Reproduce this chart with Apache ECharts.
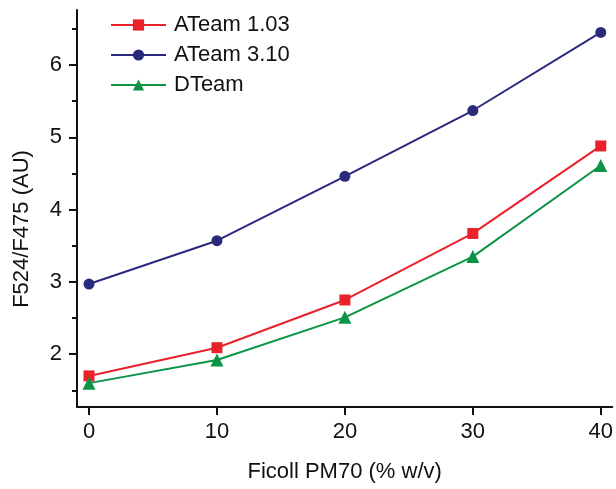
<!DOCTYPE html>
<html>
<head>
<meta charset="utf-8">
<script src="https://cdn.jsdelivr.net/npm/echarts@6/dist/echarts.min.js"></script>
<style>
  html, body { margin: 0; padding: 0; background: #fff; }
  #chart { width: 616px; height: 489px; }
</style>
</head>
<body>
<div id="chart"></div>
<script>
// data
const ficoll = [0, 10, 20, 30, 40]
const ateam103 = [1.70, 2.09, 2.75, 3.67, 4.88]
const ateam310 = [2.97, 3.57, 4.46, 5.37, 6.45]
const dteam = [1.60, 1.92, 2.51, 3.35, 4.61]
const xTicks = [0, 10, 20, 30, 40]
const yTicks = [2, 3, 4, 5, 6]
const yMinorTicks = [1.5, 2.5, 3.5, 4.5, 5.5, 6.5]

const font = 'Liberation Sans, Arial, sans-serif'
const pair = (ys) => ficoll.map((x, i) => [x, ys[i]])

const chart = echarts.init(document.getElementById('chart'))
const option = {
  animation: false,
  grid: { left: 77, top: 10, right: 3, bottom: 82 },
  legend: {
    orient: 'vertical',
    left: 105,
    top: 9,
    itemWidth: 55,
    itemHeight: 14,
    itemGap: 8,
    textStyle: { fontFamily: font, fontSize: 22, color: '#111', padding: [0, 0, 0, 3] },
    data: ['ATeam 1.03', 'ATeam 3.10', 'DTeam']
  },
  xAxis: {
    type: 'value',
    min: -0.94,
    max: 40.9,
    name: 'Ficoll PM70 (% w/v)',
    nameLocation: 'middle',
    nameGap: 54,
    nameTextStyle: { fontFamily: font, fontSize: 22, color: '#111' },
    axisLine: { show: true, onZero: false, lineStyle: { color: '#111', width: 2 } },
    axisTick: { show: true, length: 8, lineStyle: { color: '#111', width: 2 }, customValues: xTicks },
    axisLabel: { fontFamily: font, fontSize: 22, color: '#111', margin: 14, customValues: xTicks },
    splitLine: { show: false }
  },
  yAxis: [
    {
      type: 'value',
      min: 1.27,
      max: 6.76,
      axisLine: { show: true, onZero: false, lineStyle: { color: '#111', width: 2 } },
      axisTick: { show: true, length: 8, lineStyle: { color: '#111', width: 2 }, customValues: yTicks },
      axisLabel: { fontFamily: font, fontSize: 22, color: '#111', margin: 15, customValues: yTicks },
      splitLine: { show: false }
    },
    {
      // minor ticks
      type: 'value',
      position: 'left',
      offset: 0,
      min: 1.27,
      max: 6.76,
      axisLine: { show: false, onZero: false },
      axisTick: { show: true, length: 5, lineStyle: { color: '#111', width: 2 }, customValues: yMinorTicks },
      axisLabel: { show: false },
      splitLine: { show: false }
    }
  ],
  graphic: [{
    type: 'text',
    x: 22,
    y: 229,
    rotation: Math.PI / 2,
    style: {
      text: 'F524/F475 (AU)',
      fontFamily: font,
      fontSize: 22,
      fill: '#111',
      align: 'center',
      verticalAlign: 'middle'
    }
  }],
  series: [
    {
      name: 'ATeam 1.03',
      type: 'line',
      data: pair(ateam103),
      symbol: 'rect',
      symbolSize: 11,
      color: '#e8212b',
      lineStyle: { width: 2 }
    },
    {
      name: 'ATeam 3.10',
      type: 'line',
      data: pair(ateam310),
      symbol: 'circle',
      symbolSize: 11,
      color: '#2a2a7c',
      lineStyle: { width: 2 }
    },
    {
      name: 'DTeam',
      type: 'line',
      data: pair(dteam),
      symbol: 'triangle',
      symbolSize: 13,
      color: '#0b9447',
      lineStyle: { width: 2 }
    }
  ]
}
chart.setOption(option)
</script>
</body>
</html>
